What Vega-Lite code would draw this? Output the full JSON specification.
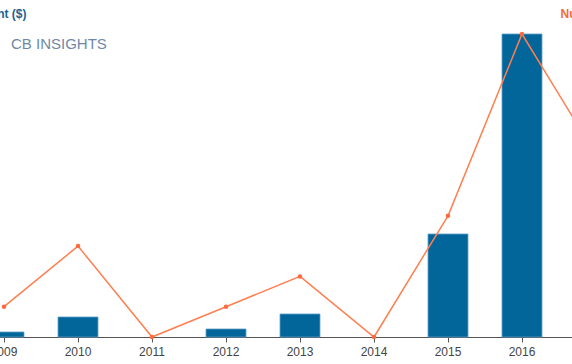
{
  "$schema": "https://vega.github.io/schema/vega-lite/v6.json",
  "autosize": "none",
  "width": 666,
  "height": 303,
  "padding": {"left": -33, "right": -61, "top": 34, "bottom": 27},
  "background": "white",
  "config": {
    "view": {"stroke": null},
    "font": "Liberation Sans"
  },
  "title": {
    "text": "CB INSIGHTS",
    "anchor": "start",
    "frame": "group",
    "orient": "top",
    "offset": 0,
    "baseline": "alphabetic",
    "dx": 44,
    "dy": 57,
    "fontSize": 15,
    "fontWeight": "normal",
    "font": "Liberation Sans",
    "color": "#6f88a8"
  },
  "data": {
    "values": [
      {"year": "2009", "funding": 5, "deals": 1},
      {"year": "2010", "funding": 20, "deals": 3},
      {"year": "2011", "funding": null, "deals": 0},
      {"year": "2012", "funding": 8, "deals": 1},
      {"year": "2013", "funding": 23, "deals": 2},
      {"year": "2014", "funding": null, "deals": 0},
      {"year": "2015", "funding": 103, "deals": 4},
      {"year": "2016", "funding": 303, "deals": 10},
      {"year": "2017", "funding": null, "deals": 6}
    ]
  },
  "encoding": {
    "x": {
      "field": "year",
      "type": "ordinal",
      "scale": {"paddingInner": 0.46, "paddingOuter": 0.23},
      "axis": {
        "title": null,
        "labelAngle": 0,
        "labelFontSize": 12,
        "labelColor": "#444444",
        "labelPadding": 4,
        "labelFlush": false,
        "labelBound": false,
        "labelOverlap": false,
        "labelExpr": "datum.value == '2017' ? '' : datum.label",
        "domainColor": "#555555",
        "tickColor": "#555555",
        "tickSize": 5,
        "grid": false
      }
    }
  },
  "layer": [
    {
      "mark": {"type": "bar", "color": "#02669b", "stroke": "#5c9cc6", "strokeWidth": 0.8},
      "encoding": {
        "y": {
          "field": "funding",
          "type": "quantitative",
          "scale": {"domain": [0, 303], "nice": false},
          "axis": {
            "title": "Funding Amount ($)",
            "orient": "left",
            "domain": false,
            "labels": false,
            "ticks": false,
            "grid": false,
            "titleAngle": 0,
            "titleAlign": "right",
            "titleBaseline": "alphabetic",
            "titleX": 59,
            "titleY": -17,
            "titleFontSize": 12,
            "titleFontWeight": "bold",
            "titleColor": "#1d5f92"
          }
        }
      }
    },
    {
      "mark": {"type": "line", "color": "#ff7f50", "strokeWidth": 1.5, "point": {"filled": true, "size": 20, "color": "#ff6a3d"}},
      "encoding": {
        "y": {
          "field": "deals",
          "type": "quantitative",
          "scale": {"domain": [0, 10], "nice": false},
          "axis": {
            "title": "Number of Deals",
            "orient": "right",
            "domain": false,
            "labels": false,
            "ticks": false,
            "grid": false,
            "titleAngle": 0,
            "titleAlign": "left",
            "titleBaseline": "alphabetic",
            "titleX": -73,
            "titleY": -17,
            "titleFontSize": 12,
            "titleFontWeight": "bold",
            "titleColor": "#f26b3c"
          }
        }
      }
    }
  ],
  "resolve": {"scale": {"y": "independent"}}
}
